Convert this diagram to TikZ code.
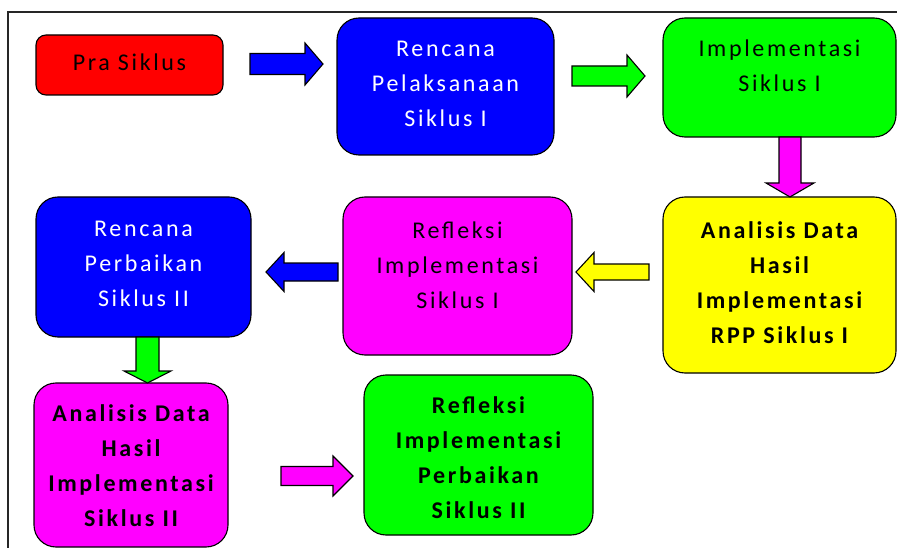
\documentclass[tikz,border=0pt]{standalone}
\usepackage{fontspec}
\setmainfont{Carlito}[LetterSpace=11]
\definecolor{cred}{HTML}{FF0000}
\definecolor{cblue}{HTML}{0000FF}
\definecolor{cgreen}{HTML}{00FF00}
\definecolor{cmag}{HTML}{FF00FF}
\definecolor{cyel}{HTML}{FFFF00}
\begin{document}
\begin{tikzpicture}[x=1pt,y=-1pt,
  box/.style={draw=black, line width=1.1pt, rounded corners=22pt, rectangle, inner sep=0pt},
  txt/.style={align=center, font=\fontsize{24}{35}\selectfont, inner sep=0pt},
  btxt/.style={txt, font=\fontsize{24}{35}\selectfont\bfseries},
  pics/barr/.style n args={4}{code={\path[pic actions] (0,-#2) -- (#1-#4,-#2) -- (#1-#4,-#3) -- (#1,0) -- (#1-#4,#3) -- (#1-#4,#2) -- (0,#2) -- cycle;}},
  arr/.style={draw=black, line width=1.1pt, line join=miter}
]
\useasboundingbox (0,0) rectangle (897,548);
% frame
\coordinate (fbl) at (8,548);
\coordinate (ftl) at (8,12);
\coordinate (ftr) at (897,12);
\draw[line width=1.5pt, black!85] (fbl) -- (ftl) -- (ftr);

% boxes
\node[box, fill=cred, rounded corners=10pt, minimum width=187pt, minimum height=60pt] (pra) at (129.5,65) {};
\node[box, fill=cblue, minimum width=217pt, minimum height=137pt] (rpel) at (445.5,86.5) {};
\node[box, fill=cgreen, minimum width=233pt, minimum height=119pt] (imp1) at (779.5,77.5) {};
\node[box, fill=cyel, minimum width=233pt, minimum height=176pt] (anl1) at (779.5,285) {};
\node[box, fill=cmag, minimum width=229pt, minimum height=158pt] (ref1) at (457.5,276) {};
\node[box, fill=cblue, minimum width=215pt, minimum height=140pt] (rpb) at (143.5,267) {};
\node[box, fill=cmag, minimum width=194pt, minimum height=164pt] (anl2) at (131,465) {};
\node[box, fill=cgreen, minimum width=229pt, minimum height=160pt] (ref2) at (478.5,455) {};

% texts
\node[txt] (praT) at (129.5,62) {Pra Siklus};
\node[txt, text=white] (rpelT) at (445.5,84) {Rencana\\Pelaksanaan\\Siklus I};
\node[txt] (imp1T) at (779.5,66) {Implementasi\\Siklus I};
\node[btxt] (anl1T) at (779.5,282.5) {Analisis Data\\Hasil\\Implementasi\\RPP Siklus I};
\node[txt] (ref1T) at (457.5,265) {Refleksi\\Implementasi\\Siklus I};
\node[txt, text=white] (rpbT) at (143.5,264) {Rencana\\Perbaikan\\Siklus II};
\node[btxt] (anl2T) at (131,466) {Analisis Data\\Hasil\\Implementasi\\Siklus II};
\node[btxt] (ref2T) at (478.5,458) {Refleksi\\Implementasi\\Perbaikan\\Siklus II};

% block arrows
\pic[arr, fill=cblue] (a1) at (250,64) {barr={73}{10.5}{21}{18}};
\pic[arr, fill=cgreen] (a2) at (572,76) {barr={73}{10}{21}{18}};
\pic[arr, fill=cmag, rotate=-90] (a3) at (790,137) {barr={60}{11}{24}{14}};
\pic[arr, fill=cyel, rotate=180] (a4) at (649,272) {barr={73}{8}{19.5}{18}};
\pic[arr, fill=cblue, rotate=180] (a5) at (338,272) {barr={72}{9}{19.5}{18}};
\pic[arr, fill=cgreen, rotate=-90] (a6) at (147.5,337) {barr={46}{11.5}{23.5}{12}};
\pic[arr, fill=cmag] (a7) at (281,476) {barr={72}{9.5}{20}{20}};
\end{tikzpicture}
\end{document}
